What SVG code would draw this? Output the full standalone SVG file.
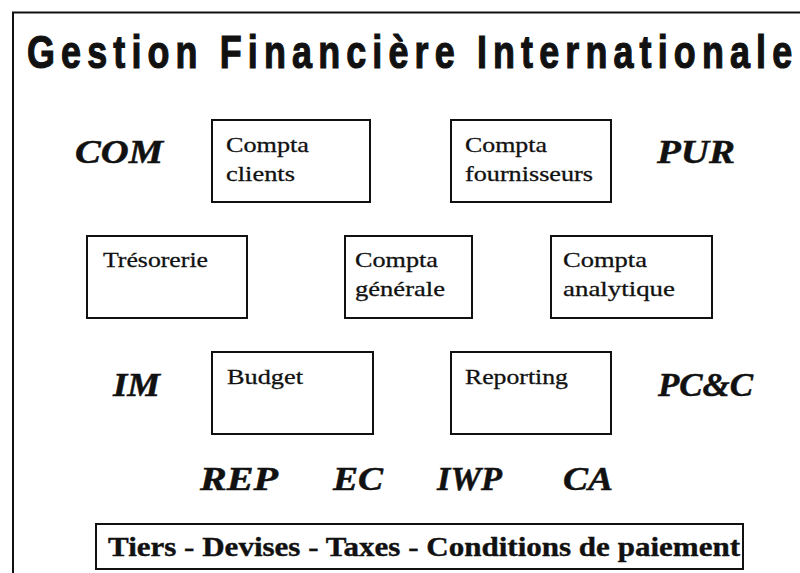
<svg xmlns="http://www.w3.org/2000/svg" width="800" height="573" viewBox="0 0 800 573">
<style>
.box{fill:#fff;stroke:#111;stroke-width:2}
.bt{font-family:"Liberation Serif","Times New Roman",serif;font-size:22px;fill:#111;stroke:#111;stroke-width:0.3}
.lab{font-family:"Liberation Serif","Times New Roman",serif;font-size:34px;font-weight:bold;font-style:italic;fill:#111;stroke:#111;stroke-width:0.5}
.title{font-family:"Liberation Sans",Arial,sans-serif;font-size:46px;font-weight:bold;fill:#111;stroke:#111;stroke-width:1.2}
.foot{font-family:"Liberation Serif","Times New Roman",serif;font-size:28px;font-weight:bold;fill:#111;stroke:#111;stroke-width:0.4}
</style>
<rect width="800" height="573" fill="#fff"/>
<path d="M13 573 V12.5 H800" fill="none" stroke="#111" stroke-width="2"/>
<text class="title" transform="translate(27,68) scale(0.78,1)" textLength="981" lengthAdjust="spacing">Gestion Financière Internationale</text>

<g id="com"><text class="lab" x="75" y="163" textLength="88" lengthAdjust="spacingAndGlyphs">COM</text></g>
<g id="pur"><text class="lab" x="657" y="163" textLength="78" lengthAdjust="spacingAndGlyphs">PUR</text></g>
<g id="im"><text class="lab" x="113" y="396" textLength="47" lengthAdjust="spacingAndGlyphs">IM</text></g>
<g id="pcc"><text class="lab" x="658" y="396" textLength="95" lengthAdjust="spacingAndGlyphs">PC&amp;C</text></g>
<g id="rep"><text class="lab" x="200" y="490" textLength="78" lengthAdjust="spacingAndGlyphs">REP</text></g>
<g id="ec"><text class="lab" x="333" y="490" textLength="50" lengthAdjust="spacingAndGlyphs">EC</text></g>
<g id="iwp"><text class="lab" x="437" y="490" textLength="65" lengthAdjust="spacingAndGlyphs">IWP</text></g>
<g id="ca"><text class="lab" x="563" y="490" textLength="50" lengthAdjust="spacingAndGlyphs">CA</text></g>

<g id="compta-clients">
<rect class="box" x="212" y="120" width="158" height="82"/>
<text class="bt" x="226" y="152" textLength="83" lengthAdjust="spacingAndGlyphs">Compta</text>
<text class="bt" x="226" y="181" textLength="69" lengthAdjust="spacingAndGlyphs">clients</text>
</g>
<g id="compta-fournisseurs">
<rect class="box" x="451" y="120" width="160" height="82"/>
<text class="bt" x="465" y="152" textLength="82" lengthAdjust="spacingAndGlyphs">Compta</text>
<text class="bt" x="465" y="181" textLength="128" lengthAdjust="spacingAndGlyphs">fournisseurs</text>
</g>
<g id="tresorerie">
<rect class="box" x="87" y="236" width="160" height="82"/>
<text class="bt" x="103" y="267" textLength="105" lengthAdjust="spacingAndGlyphs">Trésorerie</text>
</g>
<g id="compta-generale">
<rect class="box" x="345" y="236" width="127" height="82"/>
<text class="bt" x="355" y="267" textLength="83" lengthAdjust="spacingAndGlyphs">Compta</text>
<text class="bt" x="355" y="296" textLength="90" lengthAdjust="spacingAndGlyphs">générale</text>
</g>
<g id="compta-analytique">
<rect class="box" x="551" y="236" width="161" height="82"/>
<text class="bt" x="563" y="267" textLength="84" lengthAdjust="spacingAndGlyphs">Compta</text>
<text class="bt" x="563" y="296" textLength="112" lengthAdjust="spacingAndGlyphs">analytique</text>
</g>
<g id="budget">
<rect class="box" x="212" y="352" width="161" height="82"/>
<text class="bt" x="227" y="384" textLength="76" lengthAdjust="spacingAndGlyphs">Budget</text>
</g>
<g id="reporting">
<rect class="box" x="451" y="352" width="160" height="82"/>
<text class="bt" x="465" y="384" textLength="103" lengthAdjust="spacingAndGlyphs">Reporting</text>
</g>
<g id="referentiel">
<rect class="box" x="96" y="524" width="647" height="45"/>
<text class="foot" x="108" y="556" textLength="632" lengthAdjust="spacingAndGlyphs">Tiers - Devises - Taxes - Conditions de paiement</text>
</g>
<g id="connectors"/>
</svg>
